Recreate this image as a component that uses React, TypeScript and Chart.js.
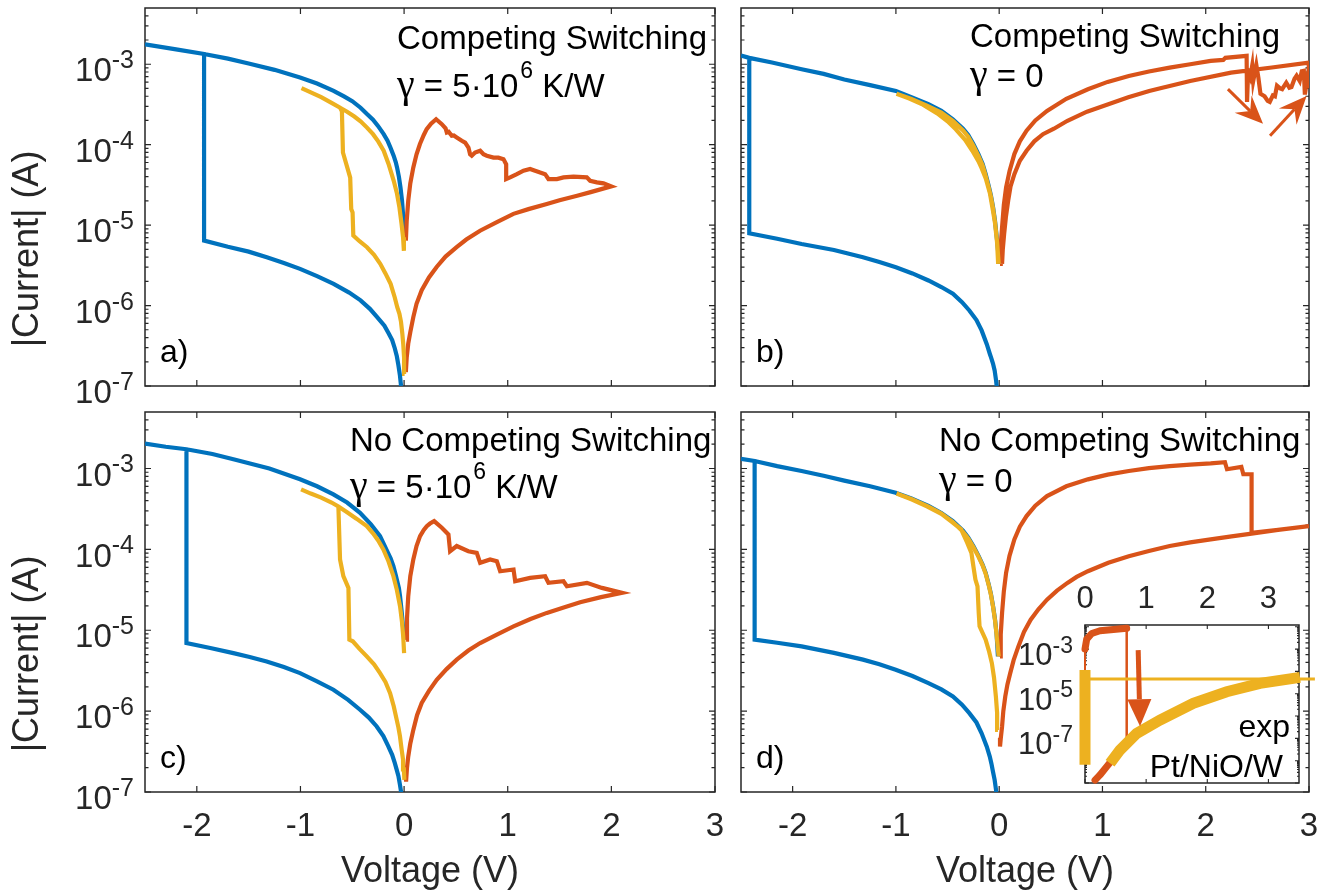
import React, { useEffect, useRef } from 'react';
import { Chart, registerables } from 'chart.js';

Chart.register(...registerables);

const W = 1341;
const H = 893;
const BLUE = '#0072BD';
const ORANGE = '#D95319';
const YELLOW = '#EDB120';
const AX = '#262626';
const SANS = '"Liberation Sans", Arial, Helvetica, sans-serif';
const SERIF = '"Liberation Serif", "Times New Roman", serif';

// ---------- tick definitions ----------
const MAIN_X_TICKS = [-2, -1, 0, 1, 2, 3];
const MAIN_Y_DECADES = [-7, -6, -5, -4, -3];
const INSET_X_TICKS = [0, 1, 2, 3];
const INSET_Y_DECADES = [-9, -8, -7, -6, -5, -4, -3, -2];
const INSET_Y_LABELLED = [-7, -5, -3];

// ---------- panel a : Competing Switching, gamma = 5e6 ----------
const aBlueV = [-0.022, -0.03, -0.04, -0.055, -0.07, -0.09, -0.115, -0.147, -0.19, -0.26, -0.33, -0.42, -0.53, -0.68, -0.84, -1.004, -1.16, -1.325, -1.5, -1.7, -1.93, -1.93, -2.2, -2.5, -2.2, -1.93, -1.7, -1.5, -1.25, -1.004, -0.84, -0.68, -0.58, -0.5, -0.42, -0.358, -0.3, -0.25, -0.197, -0.16, -0.13, -0.1, -0.08, -0.068, -0.05, -0.035, -0.02, -0.01, 0.005];
const aBlueI = [8.9e-8, 1.02e-7, 1.35e-7, 1.82e-7, 2.34e-7, 2.95e-7, 3.72e-7, 4.47e-7, 5.62e-7, 7.2e-7, 9.1e-7, 1.16e-6, 1.45e-6, 1.86e-6, 2.32e-6, 2.86e-6, 3.39e-6, 3.98e-6, 4.68e-6, 5.37e-6, 6.43e-6, 1.34e-3, 1.53e-3, 1.77e-3, 1.53e-3, 1.34e-3, 1.175e-3, 1.023e-3, 8.51e-4, 6.82e-4, 5.75e-4, 4.67e-4, 3.98e-4, 3.47e-4, 2.88e-4, 2.4e-4, 2.04e-4, 1.7e-4, 1.35e-4, 1.12e-4, 9.1e-5, 7.24e-5, 6.03e-5, 5.21e-5, 3.98e-5, 2.95e-5, 2.01e-5, 1.35e-5, 7.94e-6];
const aYellowV = [0.005, 0.0, -0.008, -0.017, -0.03, -0.045, -0.066, -0.09, -0.13, -0.18, -0.23, -0.29, -0.358, -0.43, -0.49, -0.497, -0.51, -0.52, -0.59, -0.6, -0.617, -0.7, -0.8, -0.9, -0.99, -0.9, -0.8, -0.7, -0.617, -0.55, -0.48, -0.42, -0.358, -0.3, -0.25, -0.197, -0.15, -0.1, -0.07, -0.045, -0.025, -0.01, -0.002];
const aYellowI = [1.41e-7, 2.24e-7, 3.3e-7, 4.47e-7, 6.3e-7, 7.9e-7, 9.55e-7, 1.26e-6, 1.86e-6, 2.51e-6, 3.31e-6, 4.27e-6, 5.31e-6, 6.3e-6, 7.4e-6, 1.44e-5, 1.58e-5, 3.9e-5, 8.0e-5, 2.6e-4, 2.88e-4, 3.31e-4, 3.89e-4, 4.47e-4, 5.04e-4, 4.47e-4, 3.89e-4, 3.31e-4, 2.88e-4, 2.57e-4, 2.24e-4, 1.95e-4, 1.63e-4, 1.35e-4, 1.1e-4, 8.4e-5, 5.75e-5, 3.55e-5, 2.51e-5, 1.66e-5, 1.05e-5, 7.08e-6, 4.79e-6];
const aOrangeV = [0.017, 0.025, 0.04, 0.06, 0.089, 0.12, 0.153, 0.19, 0.218, 0.26, 0.309, 0.364, 0.40, 0.412, 0.43, 0.46, 0.48, 0.508, 0.557, 0.589, 0.621, 0.637, 0.653, 0.685, 0.734, 0.766, 0.798, 0.862, 0.91, 0.959, 0.985, 0.985, 1.023, 1.088, 1.152, 1.216, 1.264, 1.313, 1.361, 1.393, 1.474, 1.538, 1.635, 1.763, 1.795, 1.86, 1.924, 1.998, 1.8, 1.67, 1.5, 1.377, 1.2, 1.055, 0.9, 0.733, 0.6, 0.507, 0.4, 0.314, 0.24, 0.17, 0.12, 0.089, 0.06, 0.04, 0.025, 0.017];
const aOrangeI = [6.41e-6, 1.12e-5, 2.01e-5, 3.31e-5, 5.21e-5, 7.59e-5, 1.02e-4, 1.32e-4, 1.56e-4, 1.82e-4, 2.07e-4, 1.8e-4, 1.6e-4, 1.42e-4, 1.45e-4, 1.29e-4, 1.3e-4, 1.23e-4, 1.12e-4, 1.06e-4, 9.2e-5, 7.6e-5, 7.3e-5, 8.0e-5, 8.4e-5, 7.6e-5, 7.3e-5, 6.9e-5, 6.9e-5, 6.6e-5, 5.7e-5, 3.74e-5, 3.92e-5, 4.3e-5, 4.74e-5, 4.98e-5, 4.74e-5, 4.5e-5, 4.3e-5, 3.74e-5, 3.74e-5, 3.92e-5, 4.0e-5, 3.92e-5, 3.56e-5, 3.4e-5, 3.3e-5, 3.03e-5, 2.57e-5, 2.32e-5, 2.04e-5, 1.83e-5, 1.58e-5, 1.38e-5, 1.1e-5, 8.51e-6, 6.61e-6, 5.31e-6, 4.07e-6, 3.02e-6, 2.24e-6, 1.55e-6, 1.05e-6, 7.18e-7, 4.68e-7, 3.36e-7, 2.24e-7, 1.49e-7];

// ---------- panel b : Competing Switching, gamma = 0 ----------
const bBlueV = [-0.02, -0.03, -0.044, -0.06, -0.075, -0.091, -0.12, -0.17, -0.22, -0.289, -0.36, -0.448, -0.56, -0.685, -0.84, -1.0, -1.16, -1.319, -1.6, -1.913, -2.15, -2.42, -2.42, -2.5, -2.42, -2.2, -1.913, -1.7, -1.5, -1.25, -1.0, -0.85, -0.685, -0.56, -0.448, -0.35, -0.3, -0.25, -0.2, -0.16, -0.131, -0.1, -0.08, -0.059, -0.04, -0.02, -0.01, 0.0];
const bBlueI = [8.9e-8, 1.17e-7, 1.56e-7, 1.9e-7, 2.19e-7, 2.52e-7, 3.31e-7, 4.91e-7, 6.61e-7, 8.69e-7, 1.1e-6, 1.4e-6, 1.7e-6, 2.05e-6, 2.51e-6, 2.99e-6, 3.47e-6, 3.98e-6, 4.9e-6, 5.83e-6, 6.76e-6, 7.91e-6, 1.2e-3, 1.28e-3, 1.2e-3, 1.05e-3, 8.65e-4, 7.59e-4, 6.46e-4, 5.5e-4, 4.66e-4, 3.89e-4, 3.18e-4, 2.63e-4, 2.07e-4, 1.58e-4, 1.32e-4, 1.02e-4, 7.59e-5, 5.75e-5, 4.3e-5, 3.02e-5, 2.34e-5, 1.66e-5, 1.12e-5, 6.41e-6, 4.68e-6, 3.31e-6];
const bYellowV = [-0.01, -0.02, -0.04, -0.06, -0.09, -0.13, -0.17, -0.2, -0.26, -0.33, -0.42, -0.5, -0.6, -0.75, -0.87, -0.994, -0.85, -0.7, -0.56, -0.448, -0.35, -0.3, -0.25, -0.2, -0.16, -0.131, -0.1, -0.08, -0.059, -0.04, -0.02, -0.005];
const bYellowI = [3.3e-6, 6.0e-6, 1.05e-5, 1.5e-5, 2.5e-5, 3.8e-5, 5.1e-5, 6.2e-5, 8.4e-5, 1.15e-4, 1.55e-4, 1.95e-4, 2.45e-4, 3.2e-4, 3.75e-4, 4.3e-4, 3.7e-4, 3.05e-4, 2.5e-4, 1.97e-4, 1.5e-4, 1.26e-4, 9.7e-5, 7.2e-5, 5.5e-5, 4.1e-5, 2.9e-5, 2.25e-5, 1.6e-5, 1.08e-5, 6.2e-6, 3.3e-6];
const bOrangeV = [0.008, 0.015, 0.028, 0.045, 0.067, 0.1, 0.147, 0.2, 0.265, 0.35, 0.463, 0.65, 0.859, 1.05, 1.255, 1.45, 1.651, 1.85, 2.048, 2.17, 2.19, 2.396, 2.40, 2.41, 2.43, 2.45, 2.46, 2.49, 2.51, 2.53, 2.57, 2.6, 2.62, 2.65, 2.67, 2.69, 2.72, 2.74, 2.78, 2.81, 2.83, 2.86, 2.88, 2.91, 2.93, 2.95, 2.96, 2.98, 2.99, 3.0, 3.0, 2.64, 2.245, 1.85, 1.65, 1.453, 1.25, 1.057, 0.85, 0.661, 0.53, 0.424, 0.34, 0.265, 0.2, 0.147, 0.11, 0.087, 0.065, 0.048, 0.035, 0.028];
const bOrangeI = [3.3e-6, 5.62e-6, 9.4e-6, 1.78e-5, 2.94e-5, 4.68e-5, 7.64e-5, 1.1e-4, 1.49e-4, 2.0e-4, 2.63e-4, 3.72e-4, 4.89e-4, 6.03e-4, 7.14e-4, 8.13e-4, 9.08e-4, 1.0e-3, 1.1e-3, 1.13e-3, 1.2e-3, 1.27e-3, 3.4e-4, 7.8e-4, 6.8e-4, 9.6e-4, 6.2e-4, 9.8e-4, 6.8e-4, 4.3e-4, 4.0e-4, 3.5e-4, 3.4e-4, 4.1e-4, 4.0e-4, 5.4e-4, 5.0e-4, 4.9e-4, 5.9e-4, 5.1e-4, 5.2e-4, 6.6e-4, 7.2e-4, 6.2e-4, 8.2e-4, 8.3e-4, 4.2e-4, 6.2e-4, 5.0e-4, 1.1e-3, 1.05e-3, 9.1e-4, 7.87e-4, 6.19e-4, 5.37e-4, 4.66e-4, 3.89e-4, 3.18e-4, 2.57e-4, 1.98e-4, 1.58e-4, 1.35e-4, 1.1e-4, 8.4e-5, 6.31e-5, 4.3e-5, 3.02e-5, 2.01e-5, 1.26e-5, 7.76e-6, 5.01e-6, 3.3e-6];
const bArrowTailV = [2.215, 2.623];
const bArrowTailI = [4.9e-4, 1.29e-4];
const bArrowTipV = [2.555, 2.977];
const bArrowTipI = [1.82e-4, 4.04e-4];

// ---------- panel c : No Competing Switching, gamma = 5e6 ----------
const cBlueV = [-0.022, -0.03, -0.04, -0.055, -0.071, -0.09, -0.115, -0.151, -0.2, -0.264, -0.34, -0.425, -0.54, -0.682, -0.84, -1.004, -1.16, -1.326, -1.49, -1.647, -1.87, -2.1, -2.1, -2.3, -2.5, -2.3, -2.1, -1.85, -1.647, -1.3, -1.004, -0.84, -0.682, -0.55, -0.425, -0.32, -0.232, -0.16, -0.13, -0.103, -0.08, -0.065, -0.05, -0.039, -0.025, -0.012, 0.0];
const cBlueI = [8.7e-8, 1.02e-7, 1.23e-7, 1.58e-7, 1.88e-7, 2.29e-7, 2.88e-7, 3.65e-7, 4.9e-7, 6.46e-7, 8.32e-7, 1.04e-6, 1.38e-6, 1.84e-6, 2.34e-6, 2.95e-6, 3.51e-6, 4.12e-6, 4.68e-6, 5.22e-6, 6.03e-6, 6.95e-6, 1.73e-3, 1.86e-3, 2.03e-3, 1.86e-3, 1.73e-3, 1.51e-3, 1.3e-3, 1.0e-3, 7.35e-4, 6.03e-4, 4.79e-4, 3.8e-4, 2.84e-4, 2.04e-4, 1.46e-4, 9.33e-5, 7.76e-5, 6.19e-5, 4.79e-5, 3.98e-5, 3.31e-5, 2.63e-5, 1.78e-5, 1.17e-5, 7.64e-6];
const cYellowV = [0.003, -0.002, -0.01, -0.023, -0.04, -0.055, -0.071, -0.1, -0.135, -0.18, -0.232, -0.29, -0.36, -0.43, -0.495, -0.528, -0.537, -0.586, -0.618, -0.634, -0.7, -0.8, -0.9, -0.994, -0.9, -0.8, -0.7, -0.634, -0.55, -0.46, -0.36, -0.3, -0.25, -0.2, -0.15, -0.103, -0.07, -0.039, -0.02, -0.008, 0.0];
const cYellowI = [1.41e-7, 1.9e-7, 2.51e-7, 3.31e-7, 4.9e-7, 6.31e-7, 7.8e-7, 1.15e-6, 1.67e-6, 2.29e-6, 2.95e-6, 3.8e-6, 4.75e-6, 5.89e-6, 7.3e-6, 7.65e-6, 3.34e-5, 4.66e-5, 7.5e-5, 3.39e-4, 3.8e-4, 4.37e-4, 4.9e-4, 5.52e-4, 4.9e-4, 4.37e-4, 3.8e-4, 3.39e-4, 2.88e-4, 2.4e-4, 1.94e-4, 1.58e-4, 1.29e-4, 1.0e-4, 7.08e-5, 4.66e-5, 3.16e-5, 1.98e-5, 1.26e-5, 8.3e-6, 5.22e-6];
const cOrangeV = [0.019, 0.028, 0.04, 0.06, 0.089, 0.12, 0.154, 0.19, 0.219, 0.25, 0.29, 0.364, 0.428, 0.444, 0.508, 0.62, 0.701, 0.734, 0.83, 0.895, 0.927, 1.056, 1.072, 1.216, 1.361, 1.393, 1.538, 1.571, 1.764, 1.909, 2.102, 1.9, 1.699, 1.54, 1.377, 1.22, 1.056, 0.9, 0.734, 0.62, 0.508, 0.41, 0.315, 0.24, 0.17, 0.125, 0.089, 0.06, 0.04, 0.028, 0.019];
const cOrangeI = [7.64e-6, 1.41e-5, 2.63e-5, 4.68e-5, 7.5e-5, 1.1e-4, 1.46e-4, 1.74e-4, 1.94e-4, 2.09e-4, 2.24e-4, 1.85e-4, 1.53e-4, 9.5e-5, 1.1e-4, 9.5e-5, 9.06e-5, 6.82e-5, 7.5e-5, 7.15e-5, 5.37e-5, 5.64e-5, 4.04e-5, 4.45e-5, 4.66e-5, 3.86e-5, 4.04e-5, 3.5e-5, 3.86e-5, 3.34e-5, 2.9e-5, 2.57e-5, 2.22e-5, 1.91e-5, 1.64e-5, 1.38e-5, 1.12e-5, 8.91e-6, 6.95e-6, 5.62e-6, 4.33e-6, 3.31e-6, 2.44e-6, 1.78e-6, 1.26e-6, 8.91e-7, 5.86e-7, 3.98e-7, 2.74e-7, 2.0e-7, 1.34e-7];

// ---------- panel d : No Competing Switching, gamma = 0 ----------
const dBlueV = [-0.022, -0.03, -0.044, -0.06, -0.075, -0.091, -0.12, -0.17, -0.22, -0.289, -0.36, -0.448, -0.56, -0.685, -0.84, -1.002, -1.16, -1.319, -1.6, -1.913, -2.15, -2.368, -2.368, -2.5, -2.368, -2.15, -1.913, -1.7, -1.5, -1.25, -1.002, -0.85, -0.685, -0.56, -0.448, -0.35, -0.3, -0.25, -0.2, -0.16, -0.131, -0.1, -0.08, -0.059, -0.04, -0.025, -0.012];
const dBlueI = [8.7e-8, 1.05e-7, 1.41e-7, 1.78e-7, 2.24e-7, 2.74e-7, 3.63e-7, 5.33e-7, 7.24e-7, 9.44e-7, 1.2e-6, 1.52e-6, 1.86e-6, 2.22e-6, 2.72e-6, 3.25e-6, 3.8e-6, 4.33e-6, 5.25e-6, 6.31e-6, 7.0e-6, 7.66e-6, 1.24e-3, 1.32e-3, 1.24e-3, 1.07e-3, 9.31e-4, 8.13e-4, 7.08e-4, 6.03e-4, 5.02e-4, 4.27e-4, 3.44e-4, 2.82e-4, 2.24e-4, 1.7e-4, 1.41e-4, 1.1e-4, 8.32e-5, 6.46e-5, 5.13e-5, 3.63e-5, 2.82e-5, 1.98e-5, 1.35e-5, 8.91e-6, 4.75e-6];
const dYellowV = [-0.012, -0.02, -0.032, -0.05, -0.071, -0.1, -0.131, -0.19, -0.198, -0.21, -0.23, -0.25, -0.269, -0.309, -0.368, -0.45, -0.56, -0.7, -0.85, -0.994, -0.85, -0.685, -0.56, -0.448, -0.35, -0.3, -0.25, -0.2, -0.16, -0.131, -0.1, -0.08, -0.059, -0.04, -0.025, -0.005];
const dYellowI = [5.86e-7, 9.5e-7, 1.52e-6, 2.6e-6, 3.93e-6, 5.6e-6, 7.65e-6, 1.12e-5, 1.64e-5, 3.5e-5, 4.24e-5, 6.2e-5, 9.06e-5, 1.2e-4, 1.77e-4, 2.15e-4, 2.75e-4, 3.4e-4, 4.15e-4, 4.9e-4, 4.2e-4, 3.38e-4, 2.78e-4, 2.18e-4, 1.65e-4, 1.37e-4, 1.07e-4, 8.1e-5, 6.3e-5, 5.0e-5, 3.55e-5, 2.75e-5, 1.93e-5, 1.32e-5, 8.7e-6, 4.75e-6];
const dOrangeV = [0.008, 0.015, 0.028, 0.045, 0.067, 0.1, 0.147, 0.2, 0.265, 0.35, 0.463, 0.65, 0.859, 1.05, 1.255, 1.45, 1.651, 1.85, 2.048, 2.186, 2.206, 2.345, 2.364, 2.444, 2.444, 2.7, 3.0, 2.7, 2.444, 2.25, 2.048, 1.85, 1.651, 1.45, 1.255, 1.057, 0.859, 0.75, 0.661, 0.56, 0.463, 0.38, 0.305, 0.24, 0.186, 0.14, 0.107, 0.08, 0.059, 0.04, 0.028, 0.016, 0.008];
const dOrangeI = [4.75e-6, 8.91e-6, 1.64e-5, 3.02e-5, 5.13e-5, 8.32e-5, 1.33e-4, 1.91e-4, 2.58e-4, 3.47e-4, 4.57e-4, 6.03e-4, 7.35e-4, 8.41e-4, 9.31e-4, 1.01e-3, 1.07e-3, 1.12e-3, 1.16e-3, 1.2e-3, 9.8e-4, 1.05e-3, 8.5e-4, 8.5e-4, 1.6e-4, 1.74e-4, 1.94e-4, 1.74e-4, 1.57e-4, 1.45e-4, 1.33e-4, 1.22e-4, 1.1e-4, 9.55e-5, 8.24e-5, 6.82e-5, 5.37e-5, 4.57e-5, 3.85e-5, 3.09e-5, 2.39e-5, 1.82e-5, 1.35e-5, 9.55e-6, 6.31e-6, 4.27e-6, 2.95e-6, 2.14e-6, 1.52e-6, 1.0e-6, 6.46e-7, 4.68e-7, 3.65e-7];

// ---------- inset : experiment Pt/NiO/W ----------
const insOrangeTopV = [0.0, 0.028, 0.11, 0.245, 0.464, 0.682];
const insOrangeTopI = [1.0e-3, 2.8e-3, 5.0e-3, 6.6e-3, 7.5e-3, 8.5e-3];
const insOrangeStartV = [0.0, 0.0];
const insOrangeStartI = [1.15e-4, 1.0e-3];
const insOrangeDropV = [0.682, 0.682];
const insOrangeDropI = [8.5e-3, 8.5e-8];
const insOrangeLowV = [0.164, 0.245, 0.355, 0.463, 0.6, 0.75];
const insOrangeLowI = [1.35e-9, 2.3e-9, 5.4e-9, 1.26e-8, 3.5e-8, 8e-8];
const insYellowBarV = [0.0, 0.0];
const insYellowBarI = [1.15e-4, 6.5e-9];
const insYellowLineV = [0.0, 3.76];
const insYellowLineI = [4.6e-5, 4.6e-5];
const insYellowCurveV = [0.41, 0.572, 0.845, 1.227, 1.771, 2.318, 2.862, 3.516];
const insYellowCurveI = [7.6e-9, 3.0e-8, 1.66e-7, 6.6e-7, 3.7e-6, 1.23e-5, 2.9e-5, 5.4e-5];
const insArrowTailV = [0.87];
const insArrowTailI = [9.0e-4];
const insArrowTipV = [0.9];
const insArrowTipI = [3.5e-7];

// ---------- helpers ----------
function zip(v: number[], i: number[]) {
  const n = Math.min(v.length, i.length);
  const out: { x: number; y: number }[] = [];
  for (let k = 0; k < n; k++) out.push({ x: v[k], y: i[k] });
  return out;
}

function ds(v: number[], i: number[], color: string, order: number, width = 4.2, extra: any = {}) {
  return {
    data: zip(v, i),
    showLine: true,
    borderColor: color,
    backgroundColor: color,
    borderWidth: width,
    pointRadius: 0,
    pointHoverRadius: 0,
    pointHitRadius: 0,
    tension: 0,
    fill: false,
    order,
    borderCapStyle: 'butt',
    borderJoinStyle: 'miter',
    ...extra,
  };
}

function drawArrow(ctx: any, x0: number, y0: number, x1: number, y1: number, color: string, shaft: number, headLen: number, headHalf: number, notch: number) {
  const dx = x1 - x0;
  const dy = y1 - y0;
  const L = Math.hypot(dx, dy);
  const ux = dx / L;
  const uy = dy / L;
  const nx = -uy;
  const ny = ux;
  const bx = x1 - ux * headLen;
  const by = y1 - uy * headLen;
  ctx.save();
  ctx.strokeStyle = color;
  ctx.fillStyle = color;
  ctx.lineWidth = shaft;
  ctx.lineCap = 'butt';
  ctx.beginPath();
  ctx.moveTo(x0, y0);
  ctx.lineTo(bx + ux * notch, by + uy * notch);
  ctx.stroke();
  ctx.beginPath();
  ctx.moveTo(x1, y1);
  ctx.lineTo(bx + nx * headHalf, by + ny * headHalf);
  ctx.lineTo(bx + ux * notch, by + uy * notch);
  ctx.lineTo(bx - nx * headHalf, by - ny * headHalf);
  ctx.closePath();
  ctx.fill();
  ctx.restore();
}

function drawPow(ctx: any, xRight: number, yTick: number, exp: string, base: number, sup: number) {
  ctx.save();
  ctx.fillStyle = AX;
  ctx.textAlign = 'left';
  ctx.textBaseline = 'alphabetic';
  ctx.font = `${sup}px ${SANS}`;
  const ws = ctx.measureText(exp).width;
  ctx.font = `${base}px ${SANS}`;
  const wb = ctx.measureText('10').width;
  ctx.fillText('10', xRight - ws - wb, yTick + base * 0.52);
  ctx.font = `${sup}px ${SANS}`;
  ctx.fillText(exp, xRight - ws, yTick + base * 0.12);
  ctx.restore();
}

function drawGamma(ctx: any, x: number, y: number, kind: string) {
  ctx.save();
  ctx.fillStyle = '#000';
  ctx.textAlign = 'left';
  ctx.textBaseline = 'alphabetic';
  ctx.font = `40px ${SERIF}`;
  ctx.fillText('γ', x, y);
  let cx = x + ctx.measureText('γ').width;
  ctx.font = `33px ${SANS}`;
  if (kind === '0') {
    ctx.fillText(' = 0', cx, y);
  } else {
    const s = ' = 5·10';
    ctx.fillText(s, cx, y);
    cx += ctx.measureText(s).width + 2;
    ctx.font = `23px ${SANS}`;
    ctx.fillText('6', cx, y - 19);
    cx += ctx.measureText('6').width;
    ctx.font = `33px ${SANS}`;
    ctx.fillText(' K/W', cx, y);
  }
  ctx.restore();
}

function drawMainAxes(ctx: any, ca: any, xs: any, ys: any) {
  ctx.save();
  ctx.strokeStyle = AX;
  ctx.lineWidth = 1.5;
  ctx.strokeRect(ca.left, ca.top, ca.right - ca.left, ca.bottom - ca.top);
  ctx.lineWidth = 1.2;
  ctx.beginPath();
  for (const v of MAIN_X_TICKS) {
    const px = xs.getPixelForValue(v);
    ctx.moveTo(px, ca.bottom); ctx.lineTo(px, ca.bottom - 6);
    ctx.moveTo(px, ca.top); ctx.lineTo(px, ca.top + 6);
  }
  for (const k of MAIN_Y_DECADES) {
    for (let m = 1; m <= 9; m++) {
      const val = m * Math.pow(10, k);
      if (val >= ys.max * 0.999) break;
      const py = ys.getPixelForValue(val);
      const len = m === 1 ? 6 : 3.5;
      ctx.moveTo(ca.left, py); ctx.lineTo(ca.left + len, py);
      ctx.moveTo(ca.right, py); ctx.lineTo(ca.right - len, py);
    }
  }
  ctx.stroke();
  ctx.restore();
}

type PanelSpec = {
  key: string;
  area: { l: number; t: number; r: number; b: number };
  blue: [number[], number[]];
  yellow: [number[], number[]];
  orange: [number[], number[]];
  yLabels: boolean;
  xLabels: boolean;
  letter: string;
  letterPos: [number, number];
  title: [string, number, number];
  gamma: [number, number, string];
  arrows?: { tailV: number[]; tailI: number[]; tipV: number[]; tipI: number[] };
};

const PANELS: PanelSpec[] = [
  {
    key: 'a', area: { l: 145, t: 8, r: 715, b: 386 },
    blue: [aBlueV, aBlueI], yellow: [aYellowV, aYellowI], orange: [aOrangeV, aOrangeI],
    yLabels: true, xLabels: false, letter: 'a)', letterPos: [160, 362],
    title: ['Competing Switching', 397, 49], gamma: [397, 97, '5e6'],
  },
  {
    key: 'b', area: { l: 741, t: 8, r: 1309, b: 386 },
    blue: [bBlueV, bBlueI], yellow: [bYellowV, bYellowI], orange: [bOrangeV, bOrangeI],
    yLabels: false, xLabels: false, letter: 'b)', letterPos: [756, 362],
    title: ['Competing Switching', 970, 47], gamma: [970, 87, '0'],
    arrows: { tailV: bArrowTailV, tailI: bArrowTailI, tipV: bArrowTipV, tipI: bArrowTipI },
  },
  {
    key: 'c', area: { l: 145, t: 412, r: 715, b: 792 },
    blue: [cBlueV, cBlueI], yellow: [cYellowV, cYellowI], orange: [cOrangeV, cOrangeI],
    yLabels: true, xLabels: true, letter: 'c)', letterPos: [160, 768],
    title: ['No Competing Switching', 350, 451], gamma: [350, 498, '5e6'],
  },
  {
    key: 'd', area: { l: 741, t: 412, r: 1309, b: 792 },
    blue: [dBlueV, dBlueI], yellow: [dYellowV, dYellowI], orange: [dOrangeV, dOrangeI],
    yLabels: false, xLabels: true, letter: 'd)', letterPos: [756, 768],
    title: ['No Competing Switching', 939, 451], gamma: [939, 492, '0'],
  },
];

function panelDeco(p: PanelSpec) {
  return {
    id: 'panelDeco' + p.key,
    beforeDatasetsDraw(chart: any) {
      drawMainAxes(chart.ctx, chart.chartArea, chart.scales.x, chart.scales.y);
    },
    afterDatasetsDraw(chart: any) {
      const ctx = chart.ctx;
      const ca = chart.chartArea;
      const xs = chart.scales.x;
      const ys = chart.scales.y;
      ctx.save();
      if (p.arrows) {
        const a = p.arrows;
        for (let k = 0; k < a.tailV.length; k++) {
          drawArrow(ctx, xs.getPixelForValue(a.tailV[k]), ys.getPixelForValue(a.tailI[k]),
            xs.getPixelForValue(a.tipV[k]), ys.getPixelForValue(a.tipI[k]), ORANGE, 3, 28, 12, 10);
        }
      }
      if (p.yLabels) {
        for (const k of MAIN_Y_DECADES) {
          drawPow(ctx, ca.left - 11, ys.getPixelForValue(Math.pow(10, k)), String(k), 33, 25);
        }
        ctx.save();
        ctx.fillStyle = AX;
        ctx.font = `36px ${SANS}`;
        ctx.textAlign = 'center';
        ctx.textBaseline = 'alphabetic';
        ctx.translate(38, (ca.top + ca.bottom) / 2 + 52);
        ctx.rotate(-Math.PI / 2);
        ctx.fillText('|Current| (A)', 0, 0);
        ctx.restore();
      }
      if (p.xLabels) {
        ctx.fillStyle = AX;
        ctx.font = `33px ${SANS}`;
        ctx.textAlign = 'center';
        ctx.textBaseline = 'alphabetic';
        for (const v of MAIN_X_TICKS) ctx.fillText(String(v), xs.getPixelForValue(v), 836);
        ctx.font = `36px ${SANS}`;
        ctx.fillText('Voltage (V)', (ca.left + ca.right) / 2, 882);
      }
      ctx.fillStyle = '#000';
      ctx.textAlign = 'left';
      ctx.textBaseline = 'alphabetic';
      ctx.font = `33px ${SANS}`;
      ctx.fillText(p.title[0], p.title[1], p.title[2]);
      ctx.font = `32px ${SANS}`;
      ctx.fillText(p.letter, p.letterPos[0], p.letterPos[1]);
      drawGamma(ctx, p.gamma[0], p.gamma[1], p.gamma[2]);
      ctx.restore();
    },
  };
}

function panelConfig(p: PanelSpec): any {
  return {
    type: 'scatter',
    data: {
      datasets: [
        ds(p.blue[0], p.blue[1], BLUE, 3),
        ds(p.orange[0], p.orange[1], ORANGE, 2),
        ds(p.yellow[0], p.yellow[1], YELLOW, 1),
      ],
    },
    options: {
      animation: false,
      responsive: false,
      devicePixelRatio: 1,
      events: [],
      layout: { padding: { left: p.area.l, top: p.area.t, right: W - p.area.r, bottom: H - p.area.b } },
      scales: {
        x: { type: 'linear', min: -2.5, max: 3, display: false },
        y: { type: 'logarithmic', min: 1e-7, max: 5e-3, display: false },
      },
      plugins: { legend: { display: false }, tooltip: { enabled: false }, title: { display: false } },
    },
    plugins: [panelDeco(p)],
  };
}

const INSET_AREA = { l: 1085, t: 625, r: 1299, b: 783 };

const insetDeco = {
  id: 'insetDeco',
  beforeDatasetsDraw(chart: any) {
    const ctx = chart.ctx;
    const ca = chart.chartArea;
    const xs = chart.scales.x;
    const ys = chart.scales.y;
    ctx.save();
    ctx.fillStyle = '#ffffff';
    ctx.fillRect(ca.left, ca.top, ca.right - ca.left, ca.bottom - ca.top);
    ctx.strokeStyle = AX;
    ctx.lineWidth = 1.5;
    ctx.strokeRect(ca.left, ca.top, ca.right - ca.left, ca.bottom - ca.top);
    ctx.lineWidth = 1.1;
    ctx.beginPath();
    for (const v of INSET_X_TICKS) {
      const px = xs.getPixelForValue(v);
      ctx.moveTo(px, ca.bottom); ctx.lineTo(px, ca.bottom - 4);
      ctx.moveTo(px, ca.top); ctx.lineTo(px, ca.top + 4);
    }
    for (const k of INSET_Y_DECADES) {
      for (let m = 1; m <= 9; m++) {
        const val = m * Math.pow(10, k);
        if (val >= ys.max * 0.999) break;
        const py = ys.getPixelForValue(val);
        const len = m === 1 ? 4 : 2;
        ctx.moveTo(ca.left, py); ctx.lineTo(ca.left + len, py);
        ctx.moveTo(ca.right, py); ctx.lineTo(ca.right - len, py);
      }
    }
    ctx.stroke();
    ctx.restore();
  },
  afterDatasetsDraw(chart: any) {
    const ctx = chart.ctx;
    const ca = chart.chartArea;
    const xs = chart.scales.x;
    const ys = chart.scales.y;
    ctx.save();
    for (let k = 0; k < insArrowTailV.length; k++) {
      drawArrow(ctx, xs.getPixelForValue(insArrowTailV[k]), ys.getPixelForValue(insArrowTailI[k]),
        xs.getPixelForValue(insArrowTipV[k]), ys.getPixelForValue(insArrowTipI[k]), ORANGE, 5, 27, 12, 0);
    }
    ctx.fillStyle = AX;
    ctx.font = `31px ${SANS}`;
    ctx.textAlign = 'center';
    ctx.textBaseline = 'alphabetic';
    for (const v of INSET_X_TICKS) ctx.fillText(String(v), xs.getPixelForValue(v), 608);
    for (const k of INSET_Y_LABELLED) drawPow(ctx, ca.left - 12, ys.getPixelForValue(Math.pow(10, k)), String(k), 31, 23);
    ctx.fillStyle = '#000';
    ctx.font = `32px ${SANS}`;
    ctx.textAlign = 'right';
    ctx.fillText('exp', 1290, 737);
    ctx.fillText('Pt/NiO/W', 1283, 777);
    ctx.restore();
  },
};

function insetConfig(): any {
  const round = { borderCapStyle: 'round', borderJoinStyle: 'round', clip: 8 };
  return {
    type: 'scatter',
    data: {
      datasets: [
        ds(insOrangeTopV, insOrangeTopI, ORANGE, 5, 7, round),
        ds(insOrangeStartV, insOrangeStartI, ORANGE, 6, 2, { clip: 8 }),
        ds(insOrangeDropV, insOrangeDropI, ORANGE, 6, 2.5, { clip: 8 }),
        ds(insOrangeLowV, insOrangeLowI, ORANGE, 5, 7, round),
        ds(insYellowBarV, insYellowBarI, YELLOW, 2, 11, { clip: 8 }),
        ds(insYellowLineV, insYellowLineI, YELLOW, 1, 3, { clip: false }),
        ds(insYellowCurveV, insYellowCurveI, YELLOW, 1, 11, { clip: false }),
      ],
    },
    options: {
      animation: false,
      responsive: false,
      devicePixelRatio: 1,
      events: [],
      layout: { padding: { left: INSET_AREA.l, top: INSET_AREA.t, right: W - INSET_AREA.r, bottom: H - INSET_AREA.b } },
      scales: {
        x: { type: 'linear', min: 0, max: 3.5, display: false },
        y: { type: 'logarithmic', min: 1e-9, max: 1.2e-2, display: false },
      },
      plugins: { legend: { display: false }, tooltip: { enabled: false }, title: { display: false } },
    },
    plugins: [insetDeco],
  };
}

export default function App() {
  const r0 = useRef<HTMLCanvasElement>(null);
  const r1 = useRef<HTMLCanvasElement>(null);
  const r2 = useRef<HTMLCanvasElement>(null);
  const r3 = useRef<HTMLCanvasElement>(null);
  const r4 = useRef<HTMLCanvasElement>(null);

  useEffect(() => {
    const refs = [r0, r1, r2, r3];
    const charts: Chart[] = [];
    PANELS.forEach((p, i) => {
      const c = refs[i].current;
      if (c) charts.push(new Chart(c, panelConfig(p)));
    });
    if (r4.current) charts.push(new Chart(r4.current, insetConfig()));
    return () => charts.forEach((c) => c.destroy());
  }, []);

  const cs: React.CSSProperties = { position: 'absolute', left: 0, top: 0, width: W, height: H };
  return (
    <div style={{ position: 'absolute', left: 0, top: 0, width: W, height: H, background: '#ffffff', overflow: 'hidden' }}>
      <canvas ref={r0} width={W} height={H} style={cs} />
      <canvas ref={r1} width={W} height={H} style={cs} />
      <canvas ref={r2} width={W} height={H} style={cs} />
      <canvas ref={r3} width={W} height={H} style={cs} />
      <canvas ref={r4} width={W} height={H} style={cs} />
    </div>
  );
}
